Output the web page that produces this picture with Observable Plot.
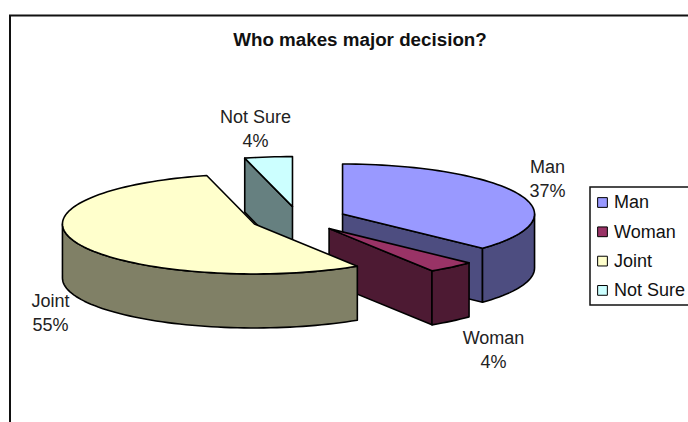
<!DOCTYPE html>
<html>
<head>
<meta charset="utf-8">
<script src="https://cdn.jsdelivr.net/npm/d3@7"></script>
<script src="https://cdn.jsdelivr.net/npm/@observablehq/plot@0.6"></script>
<style>
  html, body { margin: 0; padding: 0; background: #fff; overflow: hidden; }
  svg { display: block; }
</style>
</head>
<body>
<div id="chart"></div>
<script>
const categories = ["Man", "Woman", "Joint", "Not Sure"];
const shares = [37, 4, 55, 4];
const topColors = ["#9999ff", "#993366", "#ffffcc", "#ccffff"];
const wallColors = ["#4d4d80", "#4d1a33", "#808066", "#668080"];
const labelAnchors = [
  {x: 547, y: 177},
  {x: 493, y: 347.5},
  {x: 50, y: 311},
  {x: 255, y: 127}
];

const W = 688, H = 422;

// Tilted-pie geometry: an ellipse with a vertical extrusion, slices pushed out along their bisectors.
const pie = {cx: 298, cy: 218.5, rx: 192, ry: 50, depth: 54, explode: 48};
const rad = d => d * Math.PI / 180;

function rim(c, deg, drop = 0) {
  return [c[0] + pie.rx * Math.sin(rad(deg)), c[1] - pie.ry * Math.cos(rad(deg)) + drop];
}
function arc(c, from, to, drop = 0) {
  const pts = [];
  const n = Math.max(2, Math.ceil(Math.abs(to - from) / 2));
  for (let i = 0; i <= n; i++) pts.push(rim(c, from + (to - from) * i / n, drop));
  return pts;
}

// Every face is one closed polygon; the array order is the painter's order.
let cumulative = 0;
const slices = shares.map((s, i) => {
  const start = cumulative * 3.6;
  cumulative += s;
  const end = cumulative * 3.6;
  const mid = (start + end) / 2;
  const center = [
    pie.cx + pie.explode * Math.sin(rad(mid)),
    pie.cy - pie.explode * (pie.ry / pie.rx) * Math.cos(rad(mid))
  ];
  return {i, start, end, center};
});

function cutFace(s, deg) {
  const a = rim(s.center, deg);
  return [s.center, a, [a[0], a[1] + pie.depth], [s.center[0], s.center[1] + pie.depth]];
}
function facesOf(s) {
  const faces = [];
  if (Math.sin(rad(s.start)) < -1e-6) faces.push({pts: cutFace(s, s.start), fill: wallColors[s.i]});
  if (Math.sin(rad(s.end)) > 1e-6) faces.push({pts: cutFace(s, s.end), fill: wallColors[s.i]});
  const wallFrom = Math.max(s.start, 90), wallTo = Math.min(s.end, 270);
  if (wallTo > wallFrom) {
    faces.push({
      pts: [...arc(s.center, wallFrom, wallTo), ...arc(s.center, wallTo, wallFrom, pie.depth)],
      fill: wallColors[s.i]
    });
  }
  faces.push({pts: [s.center, ...arc(s.center, s.start, s.end)], fill: topColors[s.i]});
  return faces;
}

const paintOrder = [3, 0, 1, 2];
const faces = paintOrder.flatMap(i => facesOf(slices[i]));
const vertices = faces.flatMap((f, id) =>
  [...f.pts, f.pts[0]].map(p => ({x: p[0], y: p[1], id, fill: f.fill}))
);

const labelRows = categories.map((c, i) => ({
  text: `${c}\n${shares[i]}%`, x: labelAnchors[i].x, y: labelAnchors[i].y
}));

const legendBox = {x1: 590, x2: 690, y1: 187, y2: 305};
const legendRows = categories.map((c, i) => ({
  name: c, fill: topColors[i], y: 202 + i * 29.3
}));

const chart = Plot.plot({
  width: W, height: H,
  margin: 0,
  x: {type: "identity", axis: null},
  y: {type: "identity", axis: null},
  marks: [
    Plot.ruleX([9.5], {y1: 15, y2: H, stroke: "#111", strokeWidth: 2}),
    Plot.ruleY([15], {x1: 9, x2: W, stroke: "#111", strokeWidth: 2}),
    Plot.text(["Who makes major decision?"], {
      x: 359.5, y: 39, fontWeight: "bold", fontSize: 18.8, fill: "#111"
    }),
    Plot.line(vertices, {
      x: "x", y: "y", z: "id", fill: "fill",
      stroke: "#000", strokeWidth: 1.6, strokeLinejoin: "round", curve: "linear"
    }),
    Plot.text(labelRows, {
      x: "x", y: "y", text: "text", fontSize: 18, lineHeight: 1.34, fill: "#222"
    }),
    Plot.rect([legendBox], {
      x1: "x1", x2: "x2", y1: "y1", y2: "y2",
      fill: "white", stroke: "#111", strokeWidth: 1.5
    }),
    Plot.dot(legendRows, {
      x: () => 602, y: "y", symbol: "square", r: 5.5, fill: "fill",
      stroke: "#000", strokeWidth: 1
    }),
    Plot.text(legendRows, {
      x: () => 613.5, y: "y", text: "name", textAnchor: "start",
      fontSize: 18, fill: "#111"
    })
  ],
  style: {fontFamily: "'Liberation Sans', Arial, sans-serif", background: "white"}
});
document.getElementById("chart").append(chart);
</script>
</body>
</html>
